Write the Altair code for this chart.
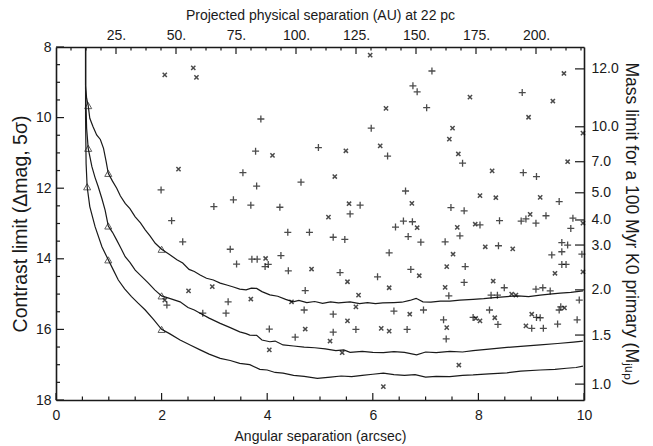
import altair as alt
import pandas as pd

# ---------------- data ----------------
# contrast curves (angular separation arcsec, contrast mag)
a_x = [0.56, 0.56, 0.58, 0.61, 0.64, 0.70, 0.77, 0.84, 0.90, 0.95, 0.99, 1.07, 1.15, 1.22, 1.31, 1.40, 1.50, 1.60, 1.69, 1.78, 1.88, 2.00,
       2.15, 2.29, 2.40, 2.52, 2.62, 2.73, 2.85, 2.98, 3.11, 3.25, 3.36, 3.48, 3.60, 3.70, 3.80, 3.90, 4.05, 4.20, 4.35, 4.49, 4.60,
       4.75, 4.90, 5.05, 5.20, 5.35, 5.57, 5.75, 5.90, 6.05, 6.19, 6.40, 6.55, 6.70, 6.82, 6.95, 7.10, 7.28, 7.46, 7.65, 7.90, 8.10,
       8.30, 8.54, 8.75, 8.95, 9.17, 9.35, 9.55, 9.75, 9.98]
a_y = [8.00, 9.10, 9.45, 9.66, 10.02, 10.25, 10.49, 10.62, 10.87, 11.25, 11.58, 11.80, 12.00, 12.22, 12.43, 12.58, 12.81, 12.98, 13.18, 13.35, 13.56, 13.73,
       13.88, 14.03, 14.12, 14.30, 14.36, 14.46, 14.55, 14.60, 14.69, 14.75, 14.80, 14.86, 14.88, 14.83, 14.84, 14.93, 15.02, 15.06, 15.15, 15.22, 15.18,
       15.24, 15.21, 15.26, 15.22, 15.25, 15.22, 15.27, 15.24, 15.27, 15.25, 15.24, 15.23, 15.18, 15.12, 15.22, 15.23, 15.20, 15.20, 15.17, 15.15, 15.13,
       15.10, 15.07, 15.05, 15.07, 15.03, 15.00, 14.97, 14.95, 14.91]

b_x = [0.56, 0.56, 0.58, 0.61, 0.68, 0.74, 0.80, 0.87, 0.93, 0.99, 1.07, 1.15, 1.23, 1.31, 1.40, 1.50, 1.62, 1.75, 1.87, 2.00,
       2.15, 2.35, 2.50, 2.62, 2.73, 2.90, 3.11, 3.30, 3.48, 3.60, 3.67, 3.80, 3.90, 4.05, 4.15, 4.30, 4.50, 4.70, 4.90, 5.10,
       5.30, 5.45, 5.57, 5.80, 6.00, 6.20, 6.40, 6.60, 6.83, 7.00, 7.20, 7.46, 7.70, 7.90, 8.20, 8.54, 8.80, 9.17, 9.50, 9.80, 9.98]
b_y = [8.00, 9.20, 10.30, 10.87, 11.39, 11.70, 11.96, 12.30, 12.62, 13.07, 13.25, 13.47, 13.70, 13.94, 14.10, 14.32, 14.50, 14.69, 14.88, 15.05,
       15.12, 15.22, 15.38, 15.45, 15.54, 15.68, 15.83, 15.95, 16.07, 16.12, 16.16, 16.17, 16.30, 16.35, 16.33, 16.44, 16.47, 16.50, 16.52, 16.55,
       16.60, 16.58, 16.65, 16.62, 16.65, 16.66, 16.63, 16.65, 16.72, 16.64, 16.66, 16.62, 16.64, 16.60, 16.56, 16.51, 16.48, 16.44, 16.40, 16.36, 16.33]

c_x = [0.56, 0.56, 0.57, 0.59, 0.64, 0.74, 0.87, 0.99, 1.08, 1.18, 1.30, 1.43, 1.55, 1.69, 1.85, 2.00,
       2.15, 2.35, 2.55, 2.73, 2.90, 3.11, 3.30, 3.48, 3.67, 3.86, 4.00, 4.15, 4.30, 4.50, 4.70, 4.95,
       5.20, 5.40, 5.60, 5.80, 6.00, 6.20, 6.40, 6.60, 6.80, 7.00, 7.20, 7.46, 7.70, 7.90, 8.20, 8.54,
       8.80, 9.17, 9.45, 9.67, 9.85, 9.98]
c_y = [8.00, 10.00, 11.30, 11.96, 12.52, 13.09, 13.66, 14.03, 14.30, 14.60, 14.85, 15.07, 15.25, 15.45, 15.72, 16.00,
       16.12, 16.30, 16.45, 16.58, 16.70, 16.82, 16.88, 16.96, 17.00, 17.13, 17.15, 17.22, 17.24, 17.30, 17.33, 17.39,
       17.35, 17.32, 17.34, 17.30, 17.27, 17.24, 17.28, 17.30, 17.28, 17.35, 17.33, 17.34, 17.30, 17.29, 17.26, 17.23,
       17.18, 17.15, 17.13, 17.10, 17.08, 17.04]

# triangle markers on the curves
tri_x = [0.61, 0.61, 0.59, 0.99, 0.99, 0.99, 2.00, 2.00, 2.00]
tri_y = [9.66, 10.87, 11.96, 11.58, 13.07, 14.03, 13.73, 15.05, 16.00]

# '+' candidates
plus_x = [1.99, 3.78, 3.54, 3.80, 3.36, 2.99, 3.69, 2.19, 2.40, 3.30, 3.42, 3.71, 3.81, 3.88, 3.26, 2.78, 3.22, 2.10,
          7.12, 6.76, 6.84, 7.02, 5.97, 4.97, 6.28, 4.64, 6.62, 4.24, 5.76, 5.57, 6.58, 6.43, 6.75, 4.39, 4.80, 5.25,
          5.47, 6.67, 6.91, 7.37, 3.96, 4.02, 4.26, 4.40, 5.38, 6.31, 6.09, 6.72, 7.44, 4.72, 4.70, 6.40, 6.96, 5.25,
          4.04, 5.25, 5.68, 6.65, 7.34, 7.39, 4.53, 8.83, 7.70, 8.85, 9.10, 9.53, 7.48, 7.73, 9.28, 8.90, 8.81, 8.40,
          9.79, 8.03, 9.09, 9.75, 7.65, 8.38, 9.58, 9.69, 9.39, 9.58, 9.96, 9.58, 9.66, 7.75, 7.73, 8.49, 8.24, 8.36,
          9.09, 9.22, 9.36, 9.91, 9.56, 9.53, 8.21, 7.90, 8.37, 9.10, 9.17, 9.01, 9.23, 9.50, 9.87]
plus_y = [12.05, 10.95, 11.56, 11.94, 12.33, 12.52, 12.48, 12.92, 13.52, 13.73, 14.15, 14.01, 14.01, 10.04, 15.22, 15.54, 15.54, 15.31,
          8.68, 9.10, 9.27, 9.72, 10.30, 10.85, 11.09, 11.83, 12.08, 12.54, 12.48, 12.73, 12.93, 13.10, 12.95, 13.25, 13.25, 13.39,
          13.45, 13.37, 13.53, 13.52, 14.22, 14.16, 13.91, 14.34, 14.39, 13.83, 14.51, 14.30, 15.05, 14.90, 15.45, 15.48, 15.45, 15.57,
          15.99, 16.08, 16.00, 16.00, 15.73, 16.27, 16.22, 9.29, 11.29, 11.56, 11.67, 12.38, 12.55, 12.64, 12.78, 12.87, 12.93, 12.92,
          12.85, 13.04, 12.99, 13.14, 13.35, 13.63, 13.54, 13.61, 13.89, 13.80, 13.87, 14.16, 14.16, 14.22, 14.67, 14.82, 15.03, 15.03,
          14.86, 14.82, 14.91, 15.17, 15.36, 15.45, 15.45, 15.66, 15.86, 15.66, 15.67, 15.97, 15.97, 15.85, 15.73]

# 'x' candidates
cross_x = [2.06, 2.60, 2.66, 2.32, 2.51, 2.96, 3.69, 2.06, 5.95, 6.25, 7.45, 4.10, 5.49, 6.14, 5.28, 5.55, 6.74, 5.16,
           6.84, 3.97, 4.84, 5.52, 6.88, 6.31, 7.37, 5.73, 4.46, 5.68, 6.70, 5.52, 4.72, 6.16, 6.31, 7.40, 5.19, 4.04,
           5.42, 6.20, 9.62, 7.84, 9.41, 8.95, 7.51, 9.98, 7.62, 9.69, 8.26, 8.03, 8.33, 9.17, 8.98, 9.98, 7.60, 7.94,
           7.52, 8.13, 8.65, 9.45, 9.98, 7.40, 8.28, 8.63, 8.71, 9.63, 7.95, 8.03, 8.31, 9.01, 8.90, 7.63]
cross_y = [8.79, 8.59, 8.86, 11.46, 14.91, 14.79, 15.14, 15.17, 8.23, 9.74, 10.61, 11.07, 10.94, 10.80, 11.67, 12.44, 12.43, 12.82,
           13.12, 13.99, 14.29, 14.65, 14.48, 14.82, 14.81, 15.03, 15.22, 15.36, 15.57, 15.76, 15.99, 15.97, 16.05, 15.95, 16.33, 16.58,
           16.66, 17.62, 8.75, 9.42, 9.53, 9.99, 10.30, 10.44, 11.03, 11.25, 11.51, 12.21, 12.27, 12.26, 12.74, 12.99, 13.11, 13.02,
           13.87, 13.66, 13.72, 14.41, 14.37, 14.22, 14.63, 15.00, 15.03, 15.39, 15.69, 15.76, 15.67, 15.57, 15.90, 17.01]

# axis tick values / labels
x_major = [0, 2, 4, 6, 8, 10]
x_minor = [0.5, 1, 1.5, 2.5, 3, 3.5, 4.5, 5, 5.5, 6.5, 7, 7.5, 8.5, 9, 9.5]
y_major = [8, 10, 12, 14, 16, 18]
y_minor = [8.5, 9, 9.5, 10.5, 11, 11.5, 12.5, 13, 13.5, 14.5, 15, 15.5, 16.5, 17, 17.5]
au_major = [25, 50, 75, 100, 125, 150, 175, 200]
au_minor = [6.25, 12.5, 18.75, 31.25, 37.5, 43.75, 56.25, 62.5, 68.75, 81.25, 87.5, 93.75, 106.25, 112.5, 118.75,
            131.25, 137.5, 143.75, 156.25, 162.5, 168.75, 181.25, 187.5, 193.75, 206.25, 212.5, 218.75]
distance_pc = 22
mass_labels = ["12.0", "10.0", "7.0", "5.0", "4.0", "3.0", "2.0", "1.5", "1.0"]
mass_pos = [8.62, 10.26, 11.25, 12.13, 12.90, 13.61, 14.88, 16.16, 17.55]

# ---------------- chart ----------------
W, H = 528, 353
FONT = "Liberation Sans"
INK = "#1a1a1a"

rows = []
for name, xs_, ys_ in (("a", a_x, a_y), ("b", b_x, b_y), ("c", c_x, c_y)):
    for i, (xv, yv) in enumerate(zip(xs_, ys_)):
        rows.append({"curve": name, "i": i, "sep": xv, "con": yv})
curves = pd.DataFrame(rows)
tri = pd.DataFrame({"sep": tri_x, "con": tri_y})
plus = pd.DataFrame({"sep": plus_x, "con": plus_y})
cross = pd.DataFrame({"sep": cross_x, "con": cross_y})

xs = alt.Scale(domain=[0, 10], nice=False, zero=False)
ys = alt.Scale(domain=[8, 18], reverse=True, nice=False, zero=False)

axis_common = dict(ticks=False, grid=False, labelFlush=False, labelOverlap=False,
                   domainColor=INK, domainWidth=1.6, labelColor=INK, titleColor=INK,
                   labelFont=FONT, titleFont=FONT, labelFontSize=14,
                   titleFontWeight="normal")

# build right-axis label expression from the arrays
expr = "''"
for pos, lab in reversed(list(zip(mass_pos, mass_labels))):
    expr = f"abs(datum.value - {pos}) < 0.01 ? '{lab}' : ({expr})"

line_layer = alt.Chart(curves).mark_line(color=INK, strokeWidth=1.2).encode(
    x=alt.X("sep:Q", scale=xs, axis=alt.Axis(orient="bottom", values=x_major, format="d",
                                             title="Angular separation (arcsec)", titleFontSize=14,
                                             labelPadding=8, titlePadding=7, **axis_common)),
    y=alt.Y("con:Q", scale=ys, axis=alt.Axis(orient="left", values=y_major, format="d",
                                             title="Contrast limit (\u0394mag, 5\u03c3)", titleFontSize=19.5,
                                             labelPadding=5, titlePadding=5, **axis_common)),
    detail="curve:N",
    order="i:Q",
)

tri_layer = alt.Chart(tri).mark_point(shape="triangle-up", filled=False, color=INK,
                                      size=50, strokeWidth=1.0).encode(
    x=alt.X("sep:Q", scale=xs, axis=alt.Axis(orient="top", values=[a / distance_pc for a in au_major],
                                             labelExpr="format(datum.value*22, '.0f') + '.'",
                                             title="Projected physical separation (AU) at 22 pc", titleFontSize=14,
                                             labelPadding=5, titlePadding=6, **axis_common)),
    y=alt.Y("con:Q", scale=ys, axis=alt.Axis(orient="right", values=mass_pos, labelExpr=expr,
                                             title="Mass limit for a 100 Myr K0 primary (M\u2c7c\u1d64\u209a)",
                                             titleFontSize=17.5,
                                             labelPadding=7, titlePadding=3, **axis_common)),
)

plus_layer = alt.Chart(plus).mark_point(shape="M-1,0L1,0M0,-1L0,1", filled=False, color="#000",
                                        size=49, strokeWidth=1.3).encode(
    x=alt.X("sep:Q", scale=xs, axis=None), y=alt.Y("con:Q", scale=ys, axis=None))
cross_layer = alt.Chart(cross).mark_point(shape="M-0.6,-0.6L0.6,0.6M-0.6,0.6L0.6,-0.6", filled=False,
                                          color="#000", size=49, strokeWidth=1.5).encode(
    x=alt.X("sep:Q", scale=xs, axis=None), y=alt.Y("con:Q", scale=ys, axis=None))


def xticks(vals, length, top=False, au=False):
    df = pd.DataFrame({"v": vals})
    ch = alt.Chart(df)
    if au:
        ch = ch.transform_calculate(sep=f"datum.v / {distance_pc}")
        field = "sep:Q"
    else:
        field = "v:Q"
    if top:
        yy, yy2 = alt.value(0), alt.value(length)
    else:
        yy, yy2 = alt.value(H), alt.value(H - length)
    return ch.mark_rule(color=INK, strokeWidth=1.2).encode(
        x=alt.X(field, scale=xs, axis=None), y=yy, y2=yy2)


def yticks(vals, length, right=False):
    df = pd.DataFrame({"v": vals})
    if right:
        xx, xx2 = alt.value(W), alt.value(W - length)
    else:
        xx, xx2 = alt.value(0), alt.value(length)
    return alt.Chart(df).mark_rule(color=INK, strokeWidth=1.2).encode(
        y=alt.Y("v:Q", scale=ys, axis=None), x=xx, x2=xx2)


tick_layers = [
    xticks(x_major, 7), xticks(x_minor, 3.5),
    xticks(au_major, 7, top=True, au=True), xticks(au_minor, 3.5, top=True, au=True),
    yticks(y_major, 8), yticks(y_minor, 4),
    yticks(mass_pos, 9, right=True),
]

chart = alt.layer(line_layer, tri_layer, plus_layer, cross_layer, *tick_layers).properties(
    width=W, height=H,
    autosize=alt.AutoSizeParams(type="none"),
    padding={"left": 48, "top": 39, "right": 61, "bottom": 45},
    background="white",
).configure_view(stroke=None)

chart.save("out.html", embed_options={"renderer": "svg", "actions": False})
